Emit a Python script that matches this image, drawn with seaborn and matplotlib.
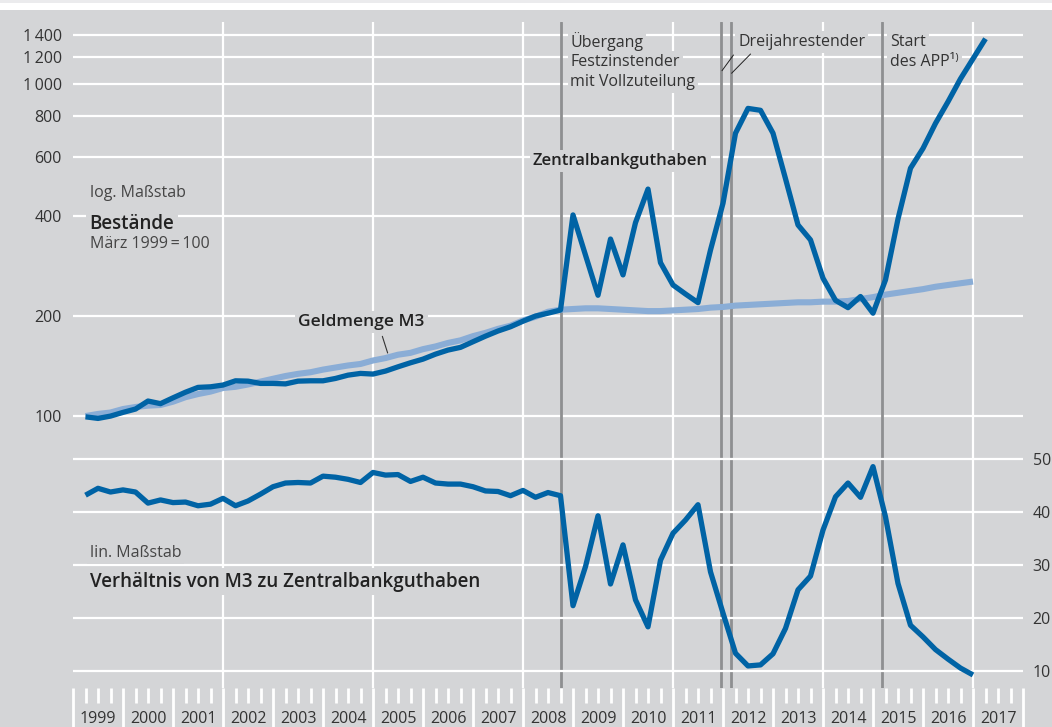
import numpy as np
import pandas as pd
import matplotlib
matplotlib.use("Agg")
import matplotlib.pyplot as plt
import matplotlib.transforms as mtransforms
from matplotlib.ticker import FixedLocator, NullLocator
from matplotlib.patches import Rectangle
import seaborn as sns

# ---------------- data (quarter-end observations, March 1999 = 100) ----------------
zbg = [99.5, 98.4, 100, 102.6, 105, 111, 109, 113.5, 118, 122, 122.5, 124, 127.7, 127.4,
       125.4, 125.4, 125, 127.4, 127.7, 127.7, 129.8, 132.8, 134.4, 133.8, 136.6, 140.7,
       144.7, 148.4, 153.6, 158, 161, 167.4, 174, 180.3, 185.7, 193, 200, 204, 208.5,
       403, 305, 231, 341, 266, 382, 482, 289.5, 248, 233, 219.5, 316, 437, 710, 843, 832,
       710, 518, 376, 339, 260, 223, 212, 229, 204, 257, 392, 557, 639, 760, 883, 1035,
       1189, 1366]
m3 = [100, 101.5, 102.5, 105, 106.5, 107.5, 108, 110.5, 114, 116.5, 118.5, 121.5, 122.5,
      124.5, 127, 129.5, 132, 134, 135.5, 138, 140, 142, 143.5, 147, 149.5, 153, 155, 159,
      162, 166, 169, 174, 178, 183, 187, 194, 199, 206, 209, 210, 211, 211, 210, 209, 208,
      207, 207, 208, 209, 210, 212, 213, 215, 216, 217, 218, 219, 220, 220, 221, 221, 222,
      225, 228, 232, 235, 238, 241, 245, 248, 251, 254]
ratio = [43.2, 44.5, 43.8, 44.2, 43.8, 41.7, 42.3, 41.8, 41.9, 41.2, 41.5, 42.6, 41.2, 42.1,
         43.4, 44.8, 45.5, 45.6, 45.5, 46.8, 46.6, 46.2, 45.6, 47.5, 47.0, 47.1, 45.8, 46.6,
         45.5, 45.3, 45.3, 44.8, 44.0, 43.9, 43.1, 44.1, 42.8, 43.7, 43.1, 22.3, 29.7, 39.3,
         26.4, 33.8, 23.4, 18.3, 30.9, 36.0, 38.5, 41.4, 28.7, 20.9, 13.3, 10.9, 11.1, 13.2,
         18.0, 25.3, 27.9, 36.6, 42.9, 45.5, 42.8, 48.6, 39.1, 26.5, 18.6, 16.4, 14.0, 12.2,
         10.5, 9.2]

log_ticks = [100, 200, 400, 600, 800, 1000, 1200, 1400]
log_labels = ["100", "200", "400", "600", "800", "1\u2009000", "1\u2009200", "1\u2009400"]
lin_ticks = [10, 20, 30, 40, 50]
lin_labels = ["10", "20", "30", "40", "50"]
years = list(range(1999, 2018))
event_dates = ["2008-10-08", "2011-12-21", "2012-02-29", "2015-03-09"]


def dec_year(ts):
    ts = pd.Timestamp(ts)
    start = pd.Timestamp(year=ts.year, month=1, day=1)
    end = pd.Timestamp(year=ts.year + 1, month=1, day=1)
    return ts.year + (ts - start) / (end - start)


q = pd.period_range("1999Q1", periods=len(zbg), freq="Q")
t_all = [p.year + p.quarter * 0.25 for p in q]
df_zbg = pd.DataFrame({"t": t_all, "v": zbg})
df_m3 = pd.DataFrame({"t": t_all[:len(m3)], "v": m3})
df_ratio = pd.DataFrame({"t": t_all[:len(ratio)], "v": ratio})
events = [dec_year(d) for d in event_dates]

# ---------------- style ----------------
BG = "#d4d5d7"
DARK = "#0063a5"
LIGHT = "#8aadd6"
EVT = "#8e8f91"
TXT = "#333333"

sns.set_style("dark")
plt.rcParams["font.family"] = ["Open Sans", "DejaVu Sans"]
plt.rcParams["text.color"] = TXT

W, H = 1052, 727
fig = plt.figure(figsize=(W / 100, H / 100), dpi=100)
fig.patch.set_facecolor(BG)
fig.patches.append(Rectangle((0, 1 - 10 / H), 1, 10 / H, transform=fig.transFigure,
                             fc="white", ec="none", zorder=0))
fig.patches.append(Rectangle((0, 1 - 3 / H), 1, 3 / H, transform=fig.transFigure,
                             fc="#ebebed", ec="none", zorder=0))

AX_L, AX_R, AX_T, AX_B = 73, 1023, 22, 688
ax = fig.add_axes([AX_L / W, (H - AX_B) / H, (AX_R - AX_L) / W, (AX_B - AX_T) / H])
ax.set_facecolor(BG)
ax.set_yscale("log")
ax.set_xlim(1999, 2018)
ax.set_ylim(15.2, 1534)
ax2 = ax.twinx()
ax2.set_ylim(6.73, 132.7)
for a in (ax, ax2):
    for s in a.spines.values():
        s.set_visible(False)
    a.grid(False)


def fy(px):
    return (AX_B - px) / (AX_B - AX_T)


trans = mtransforms.blended_transform_factory(ax.transData, ax.transAxes)
trans2 = mtransforms.blended_transform_factory(ax2.transData, ax2.transAxes)

# gridlines
GL = dict(color="white", lw=1.6, zorder=1)
for v in log_ticks:
    ax.axhline(v, **GL)
for v in lin_ticks:
    ax2.axhline(v, **GL)
for yr in range(2002, 2018, 3):
    ax.axvline(yr, **GL)
for e in events:
    ax.axvline(e, color=EVT, lw=2.0, zorder=2)

# lines
sns.lineplot(data=df_m3, x="t", y="v", ax=ax, color=LIGHT, lw=4.4, zorder=4,
             solid_capstyle="butt")
sns.lineplot(data=df_zbg, x="t", y="v", ax=ax, color=DARK, lw=3.8, zorder=5,
             solid_capstyle="butt")
sns.lineplot(data=df_ratio, x="t", y="v", ax=ax2, color=DARK, lw=3.8, zorder=5,
             solid_capstyle="butt")
ax.set_xlabel("")
ax.set_ylabel("")
ax2.set_ylabel("")

# y ticks
ax.yaxis.set_major_locator(FixedLocator(log_ticks))
ax.yaxis.set_minor_locator(NullLocator())
ax.set_yticklabels(log_labels)
ax.tick_params(axis="y", length=0, pad=8, labelsize=11.5, labelcolor=TXT)
ax2.yaxis.set_major_locator(FixedLocator(lin_ticks))
ax2.yaxis.set_minor_locator(NullLocator())
ax2.set_yticklabels(lin_labels)
ax2.tick_params(axis="y", length=0, pad=7, labelsize=11.5, labelcolor=TXT)

# x ticks (white, below the plot area)
ax.xaxis.set_major_locator(FixedLocator(list(range(1999, 2019))))
ax.xaxis.set_minor_locator(FixedLocator([y + f for y in range(1999, 2018) for f in (0.25, 0.5, 0.75)]))
ax.tick_params(axis="x", which="major", bottom=True, length=28, width=2.0, color="white",
               direction="out", labelbottom=False)
ax.tick_params(axis="x", which="minor", bottom=True, length=11, width=2.0, color="white",
               direction="out", labelbottom=False)
for yr in years:
    ax.text(yr + 0.5, fy(727), str(yr), transform=trans, ha="center", va="bottom",
            fontsize=11.5, color=TXT, clip_on=False)

BOX = dict(boxstyle="square,pad=0.18", fc=BG, ec="none")


def label(x, ypx, s, tr=trans, size=11.5, weight="normal", color=TXT, box=True, a=ax):
    a.text(x, fy(ypx), s, transform=tr, ha="left", va="baseline", fontsize=size,
           fontweight=weight, color=color, bbox=BOX if box else None, zorder=3)


# left panel labels
label(1999.33, 196.7, "log. Maßstab", color="#454545")
label(1999.33, 229.3, "Bestände", size=13.5, weight="semibold", color="#222222")
label(1999.33, 248.0, "März 1999\u2009=\u2009100", color="#454545")
label(1999.33, 556.7, "lin. Maßstab", tr=trans2, a=ax2, color="#454545")
label(1999.33, 586.7, "Verhältnis von M3 zu Zentralbankguthaben", tr=trans2, a=ax2,
      size=13.5, weight="semibold", color="#222222")

# series labels
label(2004.5 - 1.0, 326.0, "Geldmenge M3", size=12.5, weight="semibold", color="#222222")
ax.annotate("", xy=(2005.31, 152), xytext=(2005.17, 177),
            arrowprops=dict(arrowstyle="-", color="#333333", lw=0.8), zorder=3)
label(2008.19, 165.0, "Zentralbankguthaben", size=12, weight="semibold", color="#222222")

# event labels
label(events[0] + 0.18, 46.7, "Übergang")
label(events[0] + 0.18, 65.7, "Festzinstender")
label(events[0] + 0.18, 85.7, "mit Vollzuteilung")
label(events[2] + 0.14, 45.7, "Dreijahrestender")
label(events[3] + 0.16, 45.7, "Start")
label(events[3] + 0.16, 65.7, "des APP\u00b9\u207e")

# pointer strokes for Dreijahrestender
ax.plot([events[1] + 0.01, events[1] + 0.24], [fy(70.7), fy(55)], transform=trans,
        color="#222222", lw=0.7, zorder=6)
ax.plot([events[2] + 0.01, events[2] + 0.39], [fy(73.3), fy(54)], transform=trans,
        color="#222222", lw=0.7, zorder=6)

fig.savefig("out.png", dpi=100, facecolor=BG)
